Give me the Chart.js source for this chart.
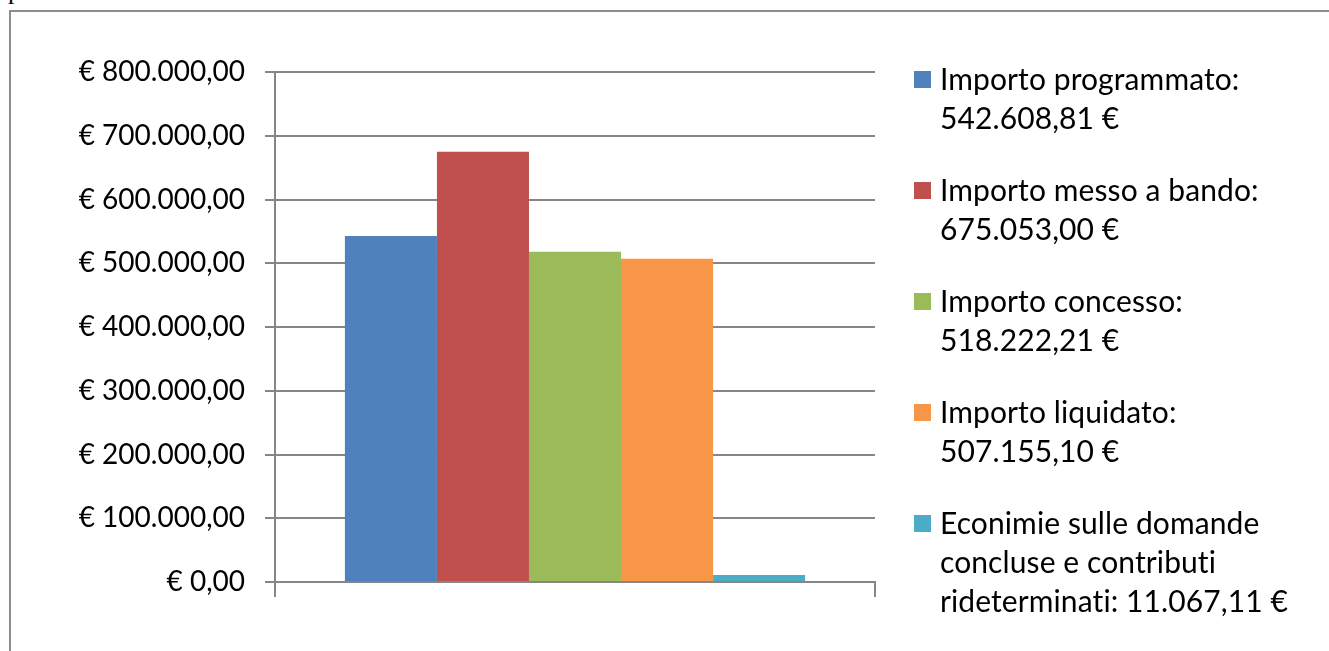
<!DOCTYPE html>
<html>
<head>
<meta charset="utf-8">
<script src="https://cdn.jsdelivr.net/npm/chart.js@4"></script>
<style>
  html, body { margin: 0; padding: 0; background: #fff; overflow: hidden; }
  #wrap { position: relative; width: 1329px; height: 651px; }
  #frame { position: absolute; left: 9px; top: 10px; width: 1400px; height: 700px;
           border-left: 2px solid #8c8c8c; border-top: 2px solid #8c8c8c; }
  #cut { position: absolute; left: 8px; top: -24px; font: 26px "Liberation Serif"; color: #000; }
  canvas { position: absolute; left: 0; top: 0; }
</style>
</head>
<body>
<div id="wrap">
  <div id="cut">p</div>
  <div id="frame"></div>
  <canvas id="c" width="1329" height="651"></canvas>
</div>
<script>
const categories = [''];
const seriesNames = [
  ['Importo programmato:', '542.608,81 €'],
  ['Importo messo a bando:', '675.053,00 €'],
  ['Importo concesso:', '518.222,21 €'],
  ['Importo liquidato:', '507.155,10 €'],
  ['Econimie sulle domande', 'concluse e contributi', 'rideterminati: 11.067,11 €']
];
const seriesValues = [542608.81, 675053.00, 518222.21, 507155.10, 11067.11];
const seriesColors = ['#4F81BD', '#C0504D', '#9BBB59', '#F79646', '#4BACC6'];
const yTicks = [0, 100000, 200000, 300000, 400000, 500000, 600000, 700000, 800000];

function fmtEuro(v) {
  const parts = v.toFixed(2).split('.');
  const intPart = parts[0].replace(/\B(?=(\d{3})+(?!\d))/g, '.');
  return '€ ' + intPart + ',' + parts[1];
}

const FONT = 'Lato';
const AXIS_COLOR = '#868686';

const legendPlugin = {
  id: 'sideLegend',
  afterDraw(chart) {
    const ctx = chart.ctx;
    ctx.save();
    ctx.font = '30px ' + FONT;
    ctx.textBaseline = 'alphabetic';
    ctx.textAlign = 'left';
    try { ctx.letterSpacing = '0.1px'; } catch (e) {}
    const x0 = 914, tx = 940, firstBase = 90, entryStep = 111, lineStep = 39;
    chart.data.datasets.forEach((ds, i) => {
      const base = firstBase + i * entryStep;
      ctx.fillStyle = ds.backgroundColor;
      ctx.fillRect(x0, base - 19, 17, 17);
      ctx.fillStyle = '#000';
      ds.label.forEach((line, j) => ctx.fillText(line, tx, base + j * lineStep));
    });
    ctx.restore();
  }
};

new Chart(document.getElementById('c'), {
  type: 'bar',
  data: {
    labels: categories,
    datasets: seriesValues.map((v, i) => ({
      label: seriesNames[i],
      data: [v],
      backgroundColor: seriesColors[i],
      borderWidth: 0,
      categoryPercentage: 0.767,
      barPercentage: 1.0
    }))
  },
  options: {
    responsive: false,
    animation: false,
    events: [],
    layout: { padding: { left: 0, right: 454, top: 72, bottom: 49 } },
    plugins: { legend: { display: false }, tooltip: { enabled: false }, title: { display: false } },
    scales: {
      x: {
        offset: true,
        grid: { display: true, drawOnChartArea: false, drawTicks: true, tickLength: 15,
                color: AXIS_COLOR, lineWidth: 2, offset: true },
        border: { display: true, color: AXIS_COLOR, width: 2 },
        ticks: { display: true, font: { family: FONT, size: 1 }, color: 'rgba(0,0,0,0)' },
        afterFit(s) { s.height = 20; }
      },
      y: {
        min: 0, max: 800000,
        afterBuildTicks(s) { s.ticks = yTicks.map(v => ({ value: v })); },
        grid: { color: AXIS_COLOR, lineWidth: 2, tickLength: 10 },
        border: { display: true, color: AXIS_COLOR, width: 2 },
        ticks: { font: { family: FONT, size: 28 }, color: '#000', padding: 20,
                 callback: v => fmtEuro(v) },
        afterFit(s) { s.width = 275; }
      }
    }
  },
  plugins: [legendPlugin]
});
</script>
</body>
</html>
